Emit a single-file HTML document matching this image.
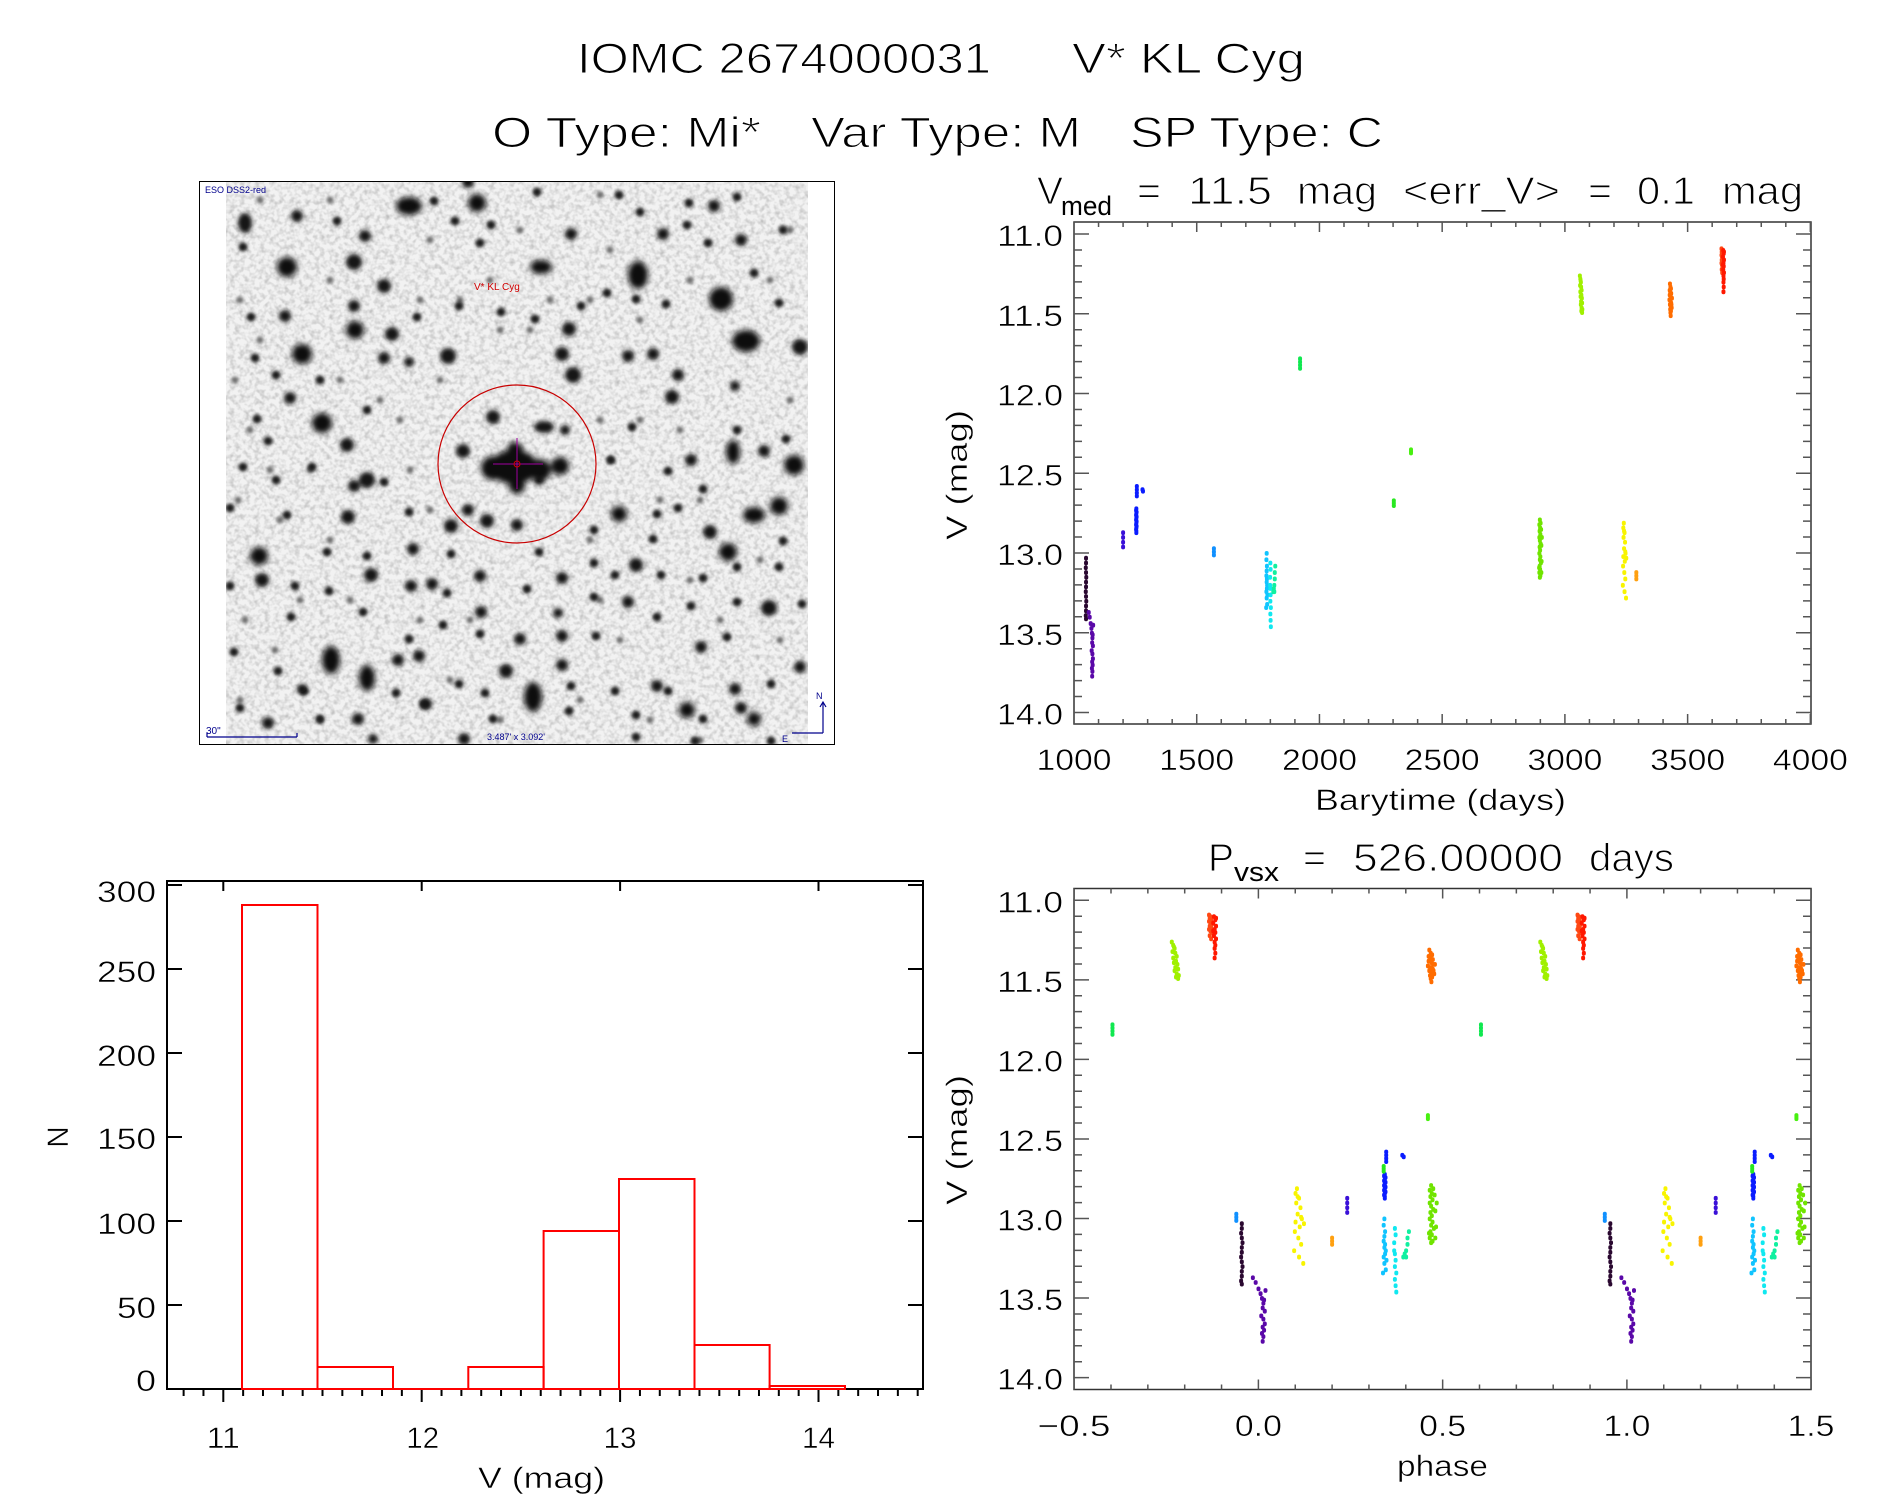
<!DOCTYPE html>
<html><head><meta charset="utf-8"><style>
html,body{margin:0;padding:0;background:#fff;overflow:hidden}
svg{display:block}
text{font-family:"Liberation Sans",sans-serif;fill:#000}
.big text,text.big{stroke:#fff;stroke-width:1.1px}
.big text.sub{stroke:none}
.mid text{stroke:#fff;stroke-width:0.5px}
.d{fill:none;stroke-width:4;stroke-linecap:round;vector-effect:non-scaling-stroke}
.tk{fill:none;stroke:#555;stroke-width:1.5;vector-effect:non-scaling-stroke}
.hk{fill:none;stroke:#000;stroke-width:2;vector-effect:non-scaling-stroke}
</style></head><body>
<svg width="1889" height="1494" viewBox="0 0 1889 1494" xmlns="http://www.w3.org/2000/svg">
<defs>
<clipPath id="imgclip"><rect x="226" y="182" width="582" height="562"/></clipPath>
<clipPath id="phclip"><rect x="1074" y="888" width="737" height="502"/></clipPath>
<filter id="b3" x="-50%" y="-50%" width="200%" height="200%"><feGaussianBlur stdDeviation="3"/></filter>
<filter id="b2" x="-50%" y="-50%" width="200%" height="200%"><feGaussianBlur stdDeviation="2"/></filter>
<filter id="b1" x="-50%" y="-50%" width="200%" height="200%"><feGaussianBlur stdDeviation="1.5"/></filter>
<filter id="noise" x="0" y="0" width="100%" height="100%"><feTurbulence type="fractalNoise" baseFrequency="0.2" numOctaves="2" seed="7"/><feColorMatrix type="matrix" values="0 0 0 0 0  0 0 0 0 0  0 0 0 0 0  0.42 0 0 0 -0.17"/></filter>

<path id="yt" class="tk" d="M1074 11h15M1074 11.5h15M1074 12h15M1074 12.5h15M1074 13h15M1074 13.5h15M1074 14h15M1074 11.1h8M1074 11.2h8M1074 11.3h8M1074 11.4h8M1074 11.6h8M1074 11.7h8M1074 11.8h8M1074 11.9h8M1074 12.1h8M1074 12.2h8M1074 12.3h8M1074 12.4h8M1074 12.6h8M1074 12.7h8M1074 12.8h8M1074 12.9h8M1074 13.1h8M1074 13.2h8M1074 13.3h8M1074 13.4h8M1074 13.6h8M1074 13.7h8M1074 13.8h8M1074 13.9h8M1811 11h-15M1811 11.5h-15M1811 12h-15M1811 12.5h-15M1811 13h-15M1811 13.5h-15M1811 14h-15M1811 11.1h-8M1811 11.2h-8M1811 11.3h-8M1811 11.4h-8M1811 11.6h-8M1811 11.7h-8M1811 11.8h-8M1811 11.9h-8M1811 12.1h-8M1811 12.2h-8M1811 12.3h-8M1811 12.4h-8M1811 12.6h-8M1811 12.7h-8M1811 12.8h-8M1811 12.9h-8M1811 13.1h-8M1811 13.2h-8M1811 13.3h-8M1811 13.4h-8M1811 13.6h-8M1811 13.7h-8M1811 13.8h-8M1811 13.9h-8"/>

<path id="c1" class="d" stroke="#2a0830" d="M1049 13.03v.005M1049 13.06v.005M1048 13.09v.005M1049 13.12v.005M1050 13.15v.005M1049 13.18v.005M1049 13.21v.005M1048 13.24v.005M1049 13.27v.005M1050 13.30v.005M1049 13.33v.005M1049 13.36v.005M1048 13.39v.005M1049 13.41v.005"/>
<path id="c2" class="d" stroke="#5a08a8" d="M1060 13.37v.005M1064 13.40v.005M1068 13.44v.005M1071 13.47v.005M1073 13.50v.005M1075 13.53v.005M1074 13.56v.005M1077 13.58v.005M1072 13.61v.005M1075 13.63v.005M1077 13.66v.005M1074 13.68v.005M1076 13.70v.005M1073 13.72v.005M1075 13.74v.005M1074 13.77v.005M1078 13.45v.005M1076 13.51v.005"/>
<path id="c3" class="d" stroke="#3a10d8" d="M1200 12.87v.005M1200 12.90v.005M1200 12.93v.005M1200 12.96v.005"/>
<path id="c4" class="d" stroke="#0a1cff" d="M1254 12.72v.005M1253 12.73v.005M1255 12.74v.005M1254 12.75v.005M1253 12.76v.005M1255 12.77v.005M1254 12.78v.005M1253 12.79v.005M1255 12.80v.005M1254 12.81v.005M1253 12.82v.005M1255 12.83v.005M1254 12.84v.005M1253 12.85v.005M1254 12.86v.005M1254 12.87v.005M1256 12.58v.005M1256 12.60v.005M1256 12.62v.005M1256 12.64v.005M1279 12.60v.005M1281 12.61v.005"/>
<path id="c5" class="d" stroke="#1090ff" d="M1570 12.97v.005M1570 12.99v.005M1570 13.01v.005"/>
<path id="c6a" class="d" stroke="#10c4ff" d="M1785 13.00v.005M1784 13.04v.005M1786 13.08v.005M1785 13.11v.005M1784 13.14v.005M1786 13.16v.005M1785 13.18v.005M1787 13.20v.005M1786 13.22v.005M1784 13.24v.005M1788 13.26v.005M1785 13.28v.005M1787 13.32v.005M1783 13.34v.005"/>
<path id="c6b" class="d" stroke="#10e8f0" d="M1800 13.06v.005M1801 13.10v.005M1799 13.15v.005M1799 13.20v.005M1800 13.22v.005M1801 13.26v.005M1800 13.30v.005M1802 13.34v.005M1800 13.38v.005M1801 13.42v.005M1802 13.46v.005"/>
<path id="c6c" class="d" stroke="#10f0a0" d="M1812 13.24v.005M1814 13.22v.005M1816 13.20v.005M1818 13.12v.005M1820 13.08v.005M1816 13.24v.005M1818 13.16v.005"/>
<path id="c7" class="d" stroke="#10e850" d="M1921 11.78v.005M1921 11.80v.005M1921 11.82v.005M1921 11.84v.005"/>
<path id="c8" class="d" stroke="#28e820" d="M2303 12.67v.005M2303 12.685v.005M2303 12.70v.005"/>
<path id="c9" class="d" stroke="#48f010" d="M2373 12.35v.005M2373 12.36v.005M2373 12.37v.005"/>
<path id="c10" class="d" stroke="#70e400" d="M2898 12.79v.005M2896 12.82v.005M2899 12.84v.005M2897 12.86v.005M2900 12.88v.005M2896 12.90v.005M2898 12.92v.005M2901 12.94v.005M2897 12.96v.005M2899 12.98v.005M2896 13.00v.005M2900 13.02v.005M2898 13.04v.005M2902 13.06v.005M2897 13.08v.005M2899 13.10v.005M2896 13.12v.005M2900 13.14v.005M2898 13.15v.005M2903 12.85v.005M2904 12.95v.005M2905 13.05v.005M2895 13.09v.005M2901 12.81v.005M2906 12.90v.005M2904 13.12v.005"/>
<path id="c11" class="d" stroke="#a0f000" d="M3061 11.26v.005M3063 11.28v.005M3065 11.30v.005M3062 11.32v.005M3066 11.33v.005M3068 11.35v.005M3063 11.36v.005M3067 11.38v.005M3064 11.39v.005M3069 11.40v.005M3066 11.42v.005M3070 11.43v.005M3065 11.44v.005M3068 11.46v.005M3071 11.47v.005M3067 11.48v.005M3070 11.49v.005M3064 11.29v.005"/>
<path id="c12" class="d" stroke="#f8f400" d="M3240 12.81v.005M3238 12.84v.005M3243 12.87v.005M3239 12.90v.005M3245 12.93v.005M3241 12.97v.005M3247 13.00v.005M3238 13.02v.005M3244 13.05v.005M3250 13.03v.005M3237 13.08v.005M3242 13.12v.005M3246 13.16v.005M3236 13.20v.005M3243 13.24v.005M3249 13.28v.005M3241 12.86v.005M3246 12.99v.005"/>
<path id="c13" class="d" stroke="#ffa010" d="M3291 13.12v.005M3291 13.14v.005M3291 13.16v.005"/>
<path id="c14" class="d" stroke="#ff6c00" d="M3428 11.31v.005M3430 11.33v.005M3432 11.34v.005M3427 11.35v.005M3429 11.36v.005M3433 11.37v.005M3428 11.38v.005M3431 11.39v.005M3434 11.40v.005M3426 11.41v.005M3430 11.42v.005M3433 11.43v.005M3428 11.44v.005M3431 11.45v.005M3435 11.46v.005M3429 11.47v.005M3432 11.48v.005M3430 11.49v.005M3431 11.51v.005M3436 11.40v.005M3427 11.38v.005M3434 11.44v.005"/>
<path id="c15a" class="d" stroke="#ff4814" d="M3638 11.09v.005M3640 11.10v.005M3639 11.11v.005M3641 11.12v.005M3638 11.13v.005M3640 11.14v.005M3642 11.15v.005M3639 11.16v.005M3641 11.17v.005M3638 11.18v.005M3640 11.19v.005M3642 11.20v.005M3639 11.22v.005M3641 11.24v.005"/>
<path id="c15b" class="d" stroke="#ff1800" d="M3645 11.10v.005M3647 11.12v.005M3644 11.14v.005M3648 11.16v.005M3646 11.18v.005M3647 11.20v.005M3645 11.22v.005M3648 11.24v.005M3646 11.26v.005M3647 11.28v.005M3646 11.30v.005M3647 11.33v.005M3646 11.36v.005M3648 11.11v.005M3644 11.19v.005"/>
</defs>

<rect width="1889" height="1494" fill="#fff"/>

<!-- Main titles -->
<g class="big">
<text x="577" y="73" font-size="43" textLength="414" lengthAdjust="spacingAndGlyphs">IOMC 2674000031</text>
<text x="1072" y="73" font-size="43" textLength="233" lengthAdjust="spacingAndGlyphs">V* KL Cyg</text>
<text x="492" y="147" font-size="43" textLength="269" lengthAdjust="spacingAndGlyphs">O Type: Mi*</text>
<text x="811" y="147" font-size="43" textLength="270" lengthAdjust="spacingAndGlyphs">Var Type: M</text>
<text x="1130" y="147" font-size="43" textLength="253" lengthAdjust="spacingAndGlyphs">SP Type: C</text>
</g>

<!-- Sky image panel -->
<rect x="199.5" y="181.5" width="635" height="563" fill="#fff" stroke="#000" stroke-width="1"/>
<g clip-path="url(#imgclip)">
<rect x="226" y="182" width="582" height="562" fill="#f2f2f2"/>
<rect x="226" y="182" width="582" height="562" filter="url(#noise)"/>
<g fill="#6a6a6a" filter="url(#b1)">
<circle cx="240" cy="300" r="3.5"/><circle cx="260" cy="340" r="3.5"/><circle cx="235" cy="380" r="3.5"/><circle cx="250" cy="430" r="3.5"/><circle cx="270" cy="470" r="3.5"/><circle cx="238" cy="500" r="3.5"/><circle cx="280" cy="520" r="3.5"/><circle cx="300" cy="600" r="3.5"/><circle cx="245" cy="620" r="3.5"/><circle cx="275" cy="650" r="3.5"/><circle cx="240" cy="700" r="3.5"/><circle cx="320" cy="720" r="3.5"/><circle cx="330" cy="280" r="3.5"/><circle cx="340" cy="380" r="3.5"/><circle cx="310" cy="470" r="3.5"/><circle cx="330" cy="540" r="3.5"/><circle cx="350" cy="600" r="3.5"/><circle cx="380" cy="400" r="3.5"/><circle cx="400" cy="420" r="3.5"/><circle cx="420" cy="300" r="3.5"/><circle cx="430" cy="240" r="3.5"/><circle cx="440" cy="380" r="3.5"/><circle cx="410" cy="470" r="3.5"/><circle cx="430" cy="510" r="3.5"/><circle cx="460" cy="300" r="3.5"/><circle cx="490" cy="280" r="3.5"/><circle cx="500" cy="330" r="3.5"/><circle cx="470" cy="620" r="3.5"/><circle cx="450" cy="680" r="3.5"/><circle cx="500" cy="720" r="3.5"/><circle cx="530" cy="330" r="3.5"/><circle cx="550" cy="300" r="3.5"/><circle cx="590" cy="300" r="3.5"/><circle cx="600" cy="420" r="3.5"/><circle cx="610" cy="460" r="3.5"/><circle cx="590" cy="540" r="3.5"/><circle cx="600" cy="600" r="3.5"/><circle cx="620" cy="640" r="3.5"/><circle cx="580" cy="700" r="3.5"/><circle cx="640" cy="420" r="3.5"/><circle cx="660" cy="500" r="3.5"/><circle cx="650" cy="720" r="3.5"/><circle cx="680" cy="430" r="3.5"/><circle cx="700" cy="500" r="3.5"/><circle cx="690" cy="580" r="3.5"/><circle cx="720" cy="620" r="3.5"/><circle cx="760" cy="560" r="3.5"/><circle cx="780" cy="640" r="3.5"/><circle cx="790" cy="400" r="3.5"/><circle cx="770" cy="280" r="3.5"/><circle cx="790" cy="230" r="3.5"/><circle cx="690" cy="280" r="3.5"/><circle cx="640" cy="320" r="3.5"/><circle cx="610" cy="250" r="3.5"/><circle cx="520" cy="230" r="3.5"/><circle cx="330" cy="200" r="3.5"/><circle cx="260" cy="200" r="3.5"/><circle cx="600" cy="195" r="3.5"/><circle cx="700" cy="740" r="3.5"/><circle cx="420" cy="620" r="3.5"/>
</g>
<g fill="#1e1e1e" filter="url(#b1)">
<circle cx="537" cy="192" r="4.5"/><circle cx="619" cy="195" r="4.5"/><circle cx="689" cy="203" r="4.5"/><circle cx="737" cy="197" r="4.5"/><circle cx="640" cy="212" r="4.5"/><circle cx="687" cy="225" r="4.5"/><circle cx="783" cy="230" r="4.5"/><circle cx="455" cy="221" r="4.5"/><circle cx="491" cy="225" r="4.5"/><circle cx="337" cy="221" r="4.5"/><circle cx="243" cy="247" r="4.5"/><circle cx="434" cy="201" r="4.5"/><circle cx="480" cy="243" r="4.5"/><circle cx="708" cy="243" r="4.5"/><circle cx="754" cy="273" r="4.5"/><circle cx="779" cy="303" r="4.5"/><circle cx="666" cy="304" r="4.5"/><circle cx="636" cy="299" r="4.5"/><circle cx="607" cy="293" r="4.5"/><circle cx="581" cy="306" r="4.5"/><circle cx="535" cy="319" r="4.5"/><circle cx="501" cy="312" r="4.5"/><circle cx="459" cy="306" r="4.5"/><circle cx="417" cy="317" r="4.5"/><circle cx="251" cy="317" r="4.5"/><circle cx="255" cy="358" r="4.5"/><circle cx="276" cy="375" r="4.5"/><circle cx="320" cy="380" r="4.5"/><circle cx="367" cy="410" r="4.5"/><circle cx="257" cy="419" r="4.5"/><circle cx="268" cy="441" r="4.5"/><circle cx="243" cy="467" r="4.5"/><circle cx="312" cy="467" r="4.5"/><circle cx="276" cy="480" r="4.5"/><circle cx="384" cy="482" r="4.5"/><circle cx="409" cy="512" r="4.5"/><circle cx="287" cy="515" r="4.5"/><circle cx="230" cy="508" r="4.5"/><circle cx="611" cy="460" r="4.5"/><circle cx="632" cy="427" r="4.5"/><circle cx="668" cy="471" r="4.5"/><circle cx="703" cy="489" r="4.5"/><circle cx="737" cy="430" r="4.5"/><circle cx="786" cy="439" r="4.5"/><circle cx="657" cy="514" r="4.5"/><circle cx="678" cy="508" r="4.5"/><circle cx="594" cy="530" r="4.5"/><circle cx="653" cy="539" r="4.5"/><circle cx="783" cy="541" r="4.5"/><circle cx="327" cy="552" r="4.5"/><circle cx="367" cy="556" r="4.5"/><circle cx="451" cy="554" r="4.5"/><circle cx="539" cy="552" r="4.5"/><circle cx="594" cy="563" r="4.5"/><circle cx="615" cy="575" r="4.5"/><circle cx="661" cy="575" r="4.5"/><circle cx="703" cy="578" r="4.5"/><circle cx="737" cy="567" r="4.5"/><circle cx="779" cy="567" r="4.5"/><circle cx="230" cy="586" r="4.5"/><circle cx="295" cy="586" r="4.5"/><circle cx="329" cy="591" r="4.5"/><circle cx="447" cy="593" r="4.5"/><circle cx="527" cy="589" r="4.5"/><circle cx="594" cy="597" r="4.5"/><circle cx="657" cy="617" r="4.5"/><circle cx="691" cy="606" r="4.5"/><circle cx="737" cy="602" r="4.5"/><circle cx="802" cy="604" r="4.5"/><circle cx="291" cy="617" r="4.5"/><circle cx="363" cy="612" r="4.5"/><circle cx="409" cy="639" r="4.5"/><circle cx="443" cy="625" r="4.5"/><circle cx="480" cy="634" r="4.5"/><circle cx="596" cy="636" r="4.5"/><circle cx="727" cy="637" r="4.5"/><circle cx="234" cy="652" r="4.5"/><circle cx="278" cy="671" r="4.5"/><circle cx="304" cy="691" r="4.5"/><circle cx="396" cy="693" r="4.5"/><circle cx="459" cy="684" r="4.5"/><circle cx="485" cy="693" r="4.5"/><circle cx="571" cy="686" r="4.5"/><circle cx="615" cy="691" r="4.5"/><circle cx="668" cy="691" r="4.5"/><circle cx="771" cy="684" r="4.5"/><circle cx="240" cy="708" r="4.5"/><circle cx="320" cy="719" r="4.5"/><circle cx="424" cy="704" r="4.5"/><circle cx="493" cy="719" r="4.5"/><circle cx="569" cy="711" r="4.5"/><circle cx="636" cy="715" r="4.5"/><circle cx="703" cy="719" r="4.5"/><circle cx="636" cy="737" r="4.5"/><circle cx="695" cy="741" r="4.5"/><circle cx="771" cy="741" r="4.5"/>
</g>
<g fill="#141414" filter="url(#b2)">
<ellipse cx="245" cy="223" rx="7" ry="10"/><circle cx="468" cy="182" r="6"/><circle cx="297" cy="216" r="6"/><circle cx="365" cy="236" r="6"/><circle cx="571" cy="234" r="6"/><circle cx="714" cy="206" r="6"/><circle cx="741" cy="240" r="6"/><circle cx="663" cy="234" r="6"/><circle cx="354" cy="262" r="8"/><circle cx="384" cy="286" r="7"/><circle cx="354" cy="306" r="6"/><circle cx="285" cy="316" r="6"/><circle cx="392" cy="334" r="7"/><circle cx="448" cy="356" r="8"/><circle cx="569" cy="329" r="7"/><circle cx="562" cy="354" r="7"/><circle cx="573" cy="375" r="8"/><circle cx="800" cy="347" r="8"/><circle cx="628" cy="356" r="6"/><circle cx="653" cy="354" r="6"/><circle cx="384" cy="358" r="6"/><circle cx="409" cy="362" r="5"/><circle cx="678" cy="375" r="6"/><circle cx="672" cy="397" r="7"/><circle cx="735" cy="386" r="5"/><circle cx="290" cy="398" r="6"/><circle cx="493" cy="417" r="7"/><ellipse cx="544" cy="427" rx="10" ry="6"/><circle cx="565" cy="430" r="5"/><circle cx="463" cy="451" r="7"/><circle cx="539" cy="480" r="5"/><circle cx="347" cy="445" r="7"/><circle cx="367" cy="480" r="8"/><circle cx="354" cy="486" r="6"/><circle cx="348" cy="517" r="7"/><circle cx="764" cy="451" r="6"/><circle cx="691" cy="460" r="6"/><circle cx="487" cy="521" r="7"/><circle cx="517" cy="525" r="6"/><circle cx="451" cy="526" r="7"/><circle cx="468" cy="510" r="6"/><circle cx="710" cy="532" r="7"/><circle cx="262" cy="580" r="7"/><circle cx="413" cy="549" r="6"/><circle cx="371" cy="575" r="7"/><circle cx="411" cy="586" r="6"/><circle cx="432" cy="584" r="6"/><circle cx="480" cy="576" r="6"/><circle cx="562" cy="578" r="6"/><circle cx="636" cy="565" r="7"/><circle cx="769" cy="608" r="8"/><circle cx="628" cy="602" r="6"/><circle cx="481" cy="612" r="6"/><circle cx="558" cy="613" r="5"/><circle cx="419" cy="656" r="6"/><circle cx="398" cy="660" r="6"/><circle cx="506" cy="671" r="7"/><circle cx="520" cy="639" r="6"/><circle cx="562" cy="636" r="6"/><circle cx="562" cy="665" r="6"/><circle cx="701" cy="647" r="6"/><circle cx="735" cy="689" r="6"/><circle cx="741" cy="708" r="6"/><circle cx="657" cy="686" r="6"/><circle cx="800" cy="667" r="6"/><circle cx="268" cy="723" r="6"/><circle cx="302" cy="689" r="5"/><circle cx="358" cy="719" r="6"/><circle cx="426" cy="704" r="6"/><circle cx="464" cy="739" r="6"/><circle cx="373" cy="739" r="5"/>
</g>
<g fill="#0c0c0c" filter="url(#b3)">
<ellipse cx="409" cy="206" rx="13" ry="9"/><circle cx="477" cy="203" r="9"/><circle cx="287" cy="267" r="10"/><ellipse cx="541" cy="267" rx="11" ry="7"/><ellipse cx="638" cy="275" rx="10" ry="14"/><circle cx="721" cy="299" r="12"/><circle cx="355" cy="330" r="9"/><circle cx="302" cy="354" r="10"/><ellipse cx="746" cy="341" rx="14" ry="11"/><circle cx="322" cy="423" r="10"/>
<ellipse cx="514" cy="467" rx="24" ry="17"/><circle cx="493" cy="468" r="12"/><circle cx="540" cy="470" r="11"/><circle cx="560" cy="466" r="9"/><circle cx="515" cy="450" r="8"/><circle cx="517" cy="486" r="8"/>
<ellipse cx="733" cy="452" rx="7" ry="12"/><circle cx="794" cy="465" r="10"/><circle cx="779" cy="506" r="9"/><ellipse cx="754" cy="515" rx="11" ry="8"/><circle cx="619" cy="514" r="8"/><circle cx="728" cy="552" r="9"/><circle cx="259" cy="556" r="9"/><ellipse cx="331" cy="660" rx="9" ry="14"/><ellipse cx="367" cy="678" rx="8" ry="13"/><ellipse cx="533" cy="697" rx="9" ry="15"/><circle cx="687" cy="710" r="8"/><circle cx="754" cy="719" r="7"/>
</g>
</g>
<circle cx="517" cy="464" r="79" fill="none" stroke="#c80000" stroke-width="1.2"/>
<path d="M493 464H543M517 438V489" stroke="#a000a0" stroke-width="1" fill="none"/>
<circle cx="517" cy="464" r="3" fill="none" stroke="#d00000" stroke-width="1"/>
<text x="474" y="290" font-size="10" style="fill:#d00000">V* KL Cyg</text>
<text x="205" y="193" font-size="9" style="fill:#00008c">ESO DSS2-red</text>
<text x="206" y="734" font-size="10" style="fill:#00008c">30"</text>
<path d="M207 737H297M207 737V733M297 737V733" stroke="#00008c" stroke-width="1.2" fill="none"/>
<text x="487" y="740" font-size="9" style="fill:#00008c">3.487' x 3.092'</text>
<path d="M823 733V702M820 707L823 702L826 707M823 733H792" stroke="#00008c" stroke-width="1.2" fill="none"/>
<text x="816" y="699" font-size="9" style="fill:#00008c">N</text>
<text x="782" y="742" font-size="9" style="fill:#00008c">E</text>

<!-- Top-right light curve -->
<g class="big">
<text x="1037" y="204" font-size="39">V</text>
<text class="sub" x="1061" y="215" font-size="27" textLength="51" lengthAdjust="spacingAndGlyphs">med</text>
<text x="1137" y="204" font-size="39" textLength="24" lengthAdjust="spacingAndGlyphs">=</text>
<text x="1188" y="204" font-size="39" textLength="84" lengthAdjust="spacingAndGlyphs">11.5</text>
<text x="1297" y="204" font-size="39" textLength="80" lengthAdjust="spacingAndGlyphs">mag</text>
<text x="1403" y="204" font-size="39" textLength="157" lengthAdjust="spacingAndGlyphs">&lt;err_V&gt;</text>
<text x="1588" y="204" font-size="39" textLength="24" lengthAdjust="spacingAndGlyphs">=</text>
<text x="1637" y="204" font-size="39" textLength="58" lengthAdjust="spacingAndGlyphs">0.1</text>
<text x="1722" y="204" font-size="39" textLength="81" lengthAdjust="spacingAndGlyphs">mag</text>
</g>

<rect x="1074" y="222" width="737" height="502" fill="none" stroke="#333" stroke-width="1.5"/>
<use href="#yt" transform="matrix(1 0 0 159.5 0 -1520.5)"/>
<path class="tk" transform="matrix(0.24545 0 0 1 828.55 0)" d="M1000 724v-10M1500 724v-10M2000 724v-10M2500 724v-10M3000 724v-10M3500 724v-10M4000 724v-10M1000 222v10M1500 222v10M2000 222v10M2500 222v10M3000 222v10M3500 222v10M4000 222v10M1100 724v-5M1200 724v-5M1300 724v-5M1400 724v-5M1600 724v-5M1700 724v-5M1800 724v-5M1900 724v-5M2100 724v-5M2200 724v-5M2300 724v-5M2400 724v-5M2600 724v-5M2700 724v-5M2800 724v-5M2900 724v-5M3100 724v-5M3200 724v-5M3300 724v-5M3400 724v-5M3600 724v-5M3700 724v-5M3800 724v-5M3900 724v-5M1100 222v5M1200 222v5M1300 222v5M1400 222v5M1600 222v5M1700 222v5M1800 222v5M1900 222v5M2100 222v5M2200 222v5M2300 222v5M2400 222v5M2600 222v5M2700 222v5M2800 222v5M2900 222v5M3100 222v5M3200 222v5M3300 222v5M3400 222v5M3600 222v5M3700 222v5M3800 222v5M3900 222v5"/>
<g transform="matrix(0.24545 0 0 159.5 828.55 -1520.5)">
<use href="#c1"/><use href="#c2"/><use href="#c3"/><use href="#c4"/><use href="#c5"/><use href="#c6a"/><use href="#c6b"/><use href="#c6c"/><use href="#c7"/><use href="#c8"/><use href="#c9"/><use href="#c10"/><use href="#c11"/><use href="#c12"/><use href="#c13"/><use href="#c14"/><use href="#c15a"/><use href="#c15b"/>
</g>
<g font-size="30" class="mid">
<text x="997" y="246" textLength="66" lengthAdjust="spacingAndGlyphs">11.0</text>
<text x="997" y="325.75" textLength="66" lengthAdjust="spacingAndGlyphs">11.5</text>
<text x="997" y="405.5" textLength="66" lengthAdjust="spacingAndGlyphs">12.0</text>
<text x="997" y="485.25" textLength="66" lengthAdjust="spacingAndGlyphs">12.5</text>
<text x="997" y="565" textLength="66" lengthAdjust="spacingAndGlyphs">13.0</text>
<text x="997" y="644.75" textLength="66" lengthAdjust="spacingAndGlyphs">13.5</text>
<text x="997" y="724.5" textLength="66" lengthAdjust="spacingAndGlyphs">14.0</text>
<text x="1036.5" y="770" textLength="75" lengthAdjust="spacingAndGlyphs">1000</text>
<text x="1159.2" y="770" textLength="75" lengthAdjust="spacingAndGlyphs">1500</text>
<text x="1282" y="770" textLength="75" lengthAdjust="spacingAndGlyphs">2000</text>
<text x="1404.7" y="770" textLength="75" lengthAdjust="spacingAndGlyphs">2500</text>
<text x="1527.4" y="770" textLength="75" lengthAdjust="spacingAndGlyphs">3000</text>
<text x="1650.2" y="770" textLength="75" lengthAdjust="spacingAndGlyphs">3500</text>
<text x="1772.9" y="770" textLength="75" lengthAdjust="spacingAndGlyphs">4000</text>
<text x="1315" y="810" textLength="251" lengthAdjust="spacingAndGlyphs">Barytime (days)</text>
<text transform="translate(967 475) rotate(-90)" x="-65" y="0" textLength="130" lengthAdjust="spacingAndGlyphs">V (mag)</text>
</g>

<!-- Bottom-right phase plot -->
<g class="big">
<text x="1208" y="871" font-size="39">P</text>
<text class="sub" x="1234" y="881" font-size="27" textLength="45" lengthAdjust="spacingAndGlyphs">vsx</text>
<text x="1303" y="871" font-size="39" textLength="23" lengthAdjust="spacingAndGlyphs">=</text>
<text x="1353" y="871" font-size="39" textLength="210" lengthAdjust="spacingAndGlyphs">526.00000</text>
<text x="1589" y="871" font-size="39" textLength="85" lengthAdjust="spacingAndGlyphs">days</text>
</g>

<rect x="1074" y="888.5" width="737" height="501" fill="none" stroke="#333" stroke-width="1.5"/>
<use href="#yt" transform="matrix(1 0 0 159.1 0 -849.8)"/>
<path class="tk" transform="matrix(368.5 0 0 1 1258.4 0)" d="M-0.5 1389.5v-10M0 1389.5v-10M0.5 1389.5v-10M1 1389.5v-10M1.5 1389.5v-10M-0.5 888.5v10M0 888.5v10M0.5 888.5v10M1 888.5v10M1.5 888.5v10M-0.4 1389.5v-5M-0.3 1389.5v-5M-0.2 1389.5v-5M-0.1 1389.5v-5M0.1 1389.5v-5M0.2 1389.5v-5M0.3 1389.5v-5M0.4 1389.5v-5M0.6 1389.5v-5M0.7 1389.5v-5M0.8 1389.5v-5M0.9 1389.5v-5M1.1 1389.5v-5M1.2 1389.5v-5M1.3 1389.5v-5M1.4 1389.5v-5M-0.4 888.5v5M-0.3 888.5v5M-0.2 888.5v5M-0.1 888.5v5M0.1 888.5v5M0.2 888.5v5M0.3 888.5v5M0.4 888.5v5M0.6 888.5v5M0.7 888.5v5M0.8 888.5v5M0.9 888.5v5M1.1 888.5v5M1.2 888.5v5M1.3 888.5v5M1.4 888.5v5"/>
<g clip-path="url(#phclip)">
<use href="#c1" transform="matrix(0.70057 0 0 159.1 506.92 -849.8)"/><use href="#c1" transform="matrix(0.70057 0 0 159.1 875.42 -849.8)"/>
<use href="#c2" transform="matrix(0.70057 0 0 159.1 510.27 -849.8)"/><use href="#c2" transform="matrix(0.70057 0 0 159.1 878.77 -849.8)"/>
<use href="#c3" transform="matrix(0.70057 0 0 159.1 506.53 -849.8)"/><use href="#c3" transform="matrix(0.70057 0 0 159.1 875.03 -849.8)"/>
<use href="#c4" transform="matrix(0.70057 0 0 159.1 506.29 -849.8)"/><use href="#c4" transform="matrix(0.70057 0 0 159.1 874.79 -849.8)"/>
<use href="#c5" transform="matrix(0.70057 0 0 159.1 136.40 -849.8)"/><use href="#c5" transform="matrix(0.70057 0 0 159.1 504.90 -849.8)"/>
<use href="#c6a" transform="matrix(0.70057 0 0 159.1 133.87 -849.8)"/><use href="#c6a" transform="matrix(0.70057 0 0 159.1 502.37 -849.8)"/>
<use href="#c6b" transform="matrix(0.70057 0 0 159.1 133.87 -849.8)"/><use href="#c6b" transform="matrix(0.70057 0 0 159.1 502.37 -849.8)"/>
<use href="#c6c" transform="matrix(0.70057 0 0 159.1 133.87 -849.8)"/><use href="#c6c" transform="matrix(0.70057 0 0 159.1 502.37 -849.8)"/>
<use href="#c7" transform="matrix(0.70057 0 0 159.1 -233.32 -849.8)"/><use href="#c7" transform="matrix(0.70057 0 0 159.1 135.18 -849.8)"/>
<use href="#c8" transform="matrix(0.70057 0 0 159.1 -229.72 -849.8)"/><use href="#c8" transform="matrix(0.70057 0 0 159.1 138.78 -849.8)"/>
<use href="#c9" transform="matrix(0.70057 0 0 159.1 -234.54 -849.8)"/><use href="#c9" transform="matrix(0.70057 0 0 159.1 133.96 -849.8)"/>
<use href="#c10" transform="matrix(0.70057 0 0 159.1 -599.13 -849.8)"/><use href="#c10" transform="matrix(0.70057 0 0 159.1 -230.63 -849.8)"/>
<use href="#c11" transform="matrix(0.70057 0 0 159.1 -972.64 -849.8)"/><use href="#c11" transform="matrix(0.70057 0 0 159.1 -604.14 -849.8)"/>
<use href="#c12" transform="matrix(0.70057 0 0 159.1 -972.90 -849.8)"/><use href="#c12" transform="matrix(0.70057 0 0 159.1 -604.40 -849.8)"/>
<use href="#c13" transform="matrix(0.70057 0 0 159.1 -973.48 -849.8)"/><use href="#c13" transform="matrix(0.70057 0 0 159.1 -604.98 -849.8)"/>
<use href="#c14" transform="matrix(0.70057 0 0 159.1 -972.24 -849.8)"/><use href="#c14" transform="matrix(0.70057 0 0 159.1 -603.74 -849.8)"/>
<use href="#c15a" transform="matrix(0.70057 0 0 159.1 -1339.65 -849.8)"/><use href="#c15a" transform="matrix(0.70057 0 0 159.1 -971.15 -849.8)"/>
<use href="#c15b" transform="matrix(0.70057 0 0 159.1 -1339.65 -849.8)"/><use href="#c15b" transform="matrix(0.70057 0 0 159.1 -971.15 -849.8)"/>
</g>
<g font-size="30" class="mid">
<text x="997" y="912.3" textLength="66" lengthAdjust="spacingAndGlyphs">11.0</text>
<text x="997" y="991.85" textLength="66" lengthAdjust="spacingAndGlyphs">11.5</text>
<text x="997" y="1071.4" textLength="66" lengthAdjust="spacingAndGlyphs">12.0</text>
<text x="997" y="1151" textLength="66" lengthAdjust="spacingAndGlyphs">12.5</text>
<text x="997" y="1230.5" textLength="66" lengthAdjust="spacingAndGlyphs">13.0</text>
<text x="997" y="1310" textLength="66" lengthAdjust="spacingAndGlyphs">13.5</text>
<text x="997" y="1389.6" textLength="66" lengthAdjust="spacingAndGlyphs">14.0</text>
<text x="1037.5" y="1436" textLength="73" lengthAdjust="spacingAndGlyphs">−0.5</text>
<text x="1234.9" y="1436" textLength="47" lengthAdjust="spacingAndGlyphs">0.0</text>
<text x="1419.1" y="1436" textLength="47" lengthAdjust="spacingAndGlyphs">0.5</text>
<text x="1603.4" y="1436" textLength="47" lengthAdjust="spacingAndGlyphs">1.0</text>
<text x="1787.5" y="1436" textLength="47" lengthAdjust="spacingAndGlyphs">1.5</text>
<text x="1397" y="1476" textLength="91" lengthAdjust="spacingAndGlyphs">phase</text>
<text transform="translate(967 1140) rotate(-90)" x="-65" y="0" textLength="130" lengthAdjust="spacingAndGlyphs">V (mag)</text>
</g>

<!-- Histogram -->
<rect x="167" y="881" width="756" height="508" fill="none" stroke="#000" stroke-width="2"/>
<path class="hk" d="M167 1389h15M167 1305h15M167 1221h15M167 1137h15M167 1053h15M167 969h15M167 885h15M923 1389h-15M923 1305h-15M923 1221h-15M923 1137h-15M923 1053h-15M923 969h-15M923 885h-15"/>
<path class="hk" transform="matrix(198.4 0 0 1 -1959.1 0)" d="M11 1389v13M12 1389v13M13 1389v13M14 1389v13M11 881v10M12 881v10M13 881v10M14 881v10M10.8 1389v7M10.9 1389v7M11.1 1389v7M11.2 1389v7M11.3 1389v7M11.4 1389v7M11.5 1389v7M11.6 1389v7M11.7 1389v7M11.8 1389v7M11.9 1389v7M12.1 1389v7M12.2 1389v7M12.3 1389v7M12.4 1389v7M12.5 1389v7M12.6 1389v7M12.7 1389v7M12.8 1389v7M12.9 1389v7M13.1 1389v7M13.2 1389v7M13.3 1389v7M13.4 1389v7M13.5 1389v7M13.6 1389v7M13.7 1389v7M13.8 1389v7M13.9 1389v7M14.1 1389v7M14.2 1389v7M14.3 1389v7M14.4 1389v7M14.5 1389v7"/>
<g fill="none" stroke="#ff0000" stroke-width="2">
<path d="M242 1389H845"/>
<rect x="242" y="905" width="75.5" height="484"/>
<rect x="317.5" y="1367" width="75.5" height="22"/>
<rect x="468.3" y="1367" width="75.3" height="22"/>
<rect x="543.6" y="1231" width="75.4" height="158"/>
<rect x="619" y="1179" width="75.5" height="210"/>
<rect x="694.5" y="1345" width="75.1" height="44"/>
<rect x="769.6" y="1386" width="75.4" height="3"/>
</g>
<g font-size="30" class="mid">
<text x="97" y="902" textLength="59" lengthAdjust="spacingAndGlyphs">300</text>
<text x="97" y="982" textLength="59" lengthAdjust="spacingAndGlyphs">250</text>
<text x="97" y="1066" textLength="59" lengthAdjust="spacingAndGlyphs">200</text>
<text x="97" y="1149" textLength="59" lengthAdjust="spacingAndGlyphs">150</text>
<text x="97" y="1234" textLength="59" lengthAdjust="spacingAndGlyphs">100</text>
<text x="117" y="1318" textLength="39" lengthAdjust="spacingAndGlyphs">50</text>
<text x="136" y="1391" textLength="20" lengthAdjust="spacingAndGlyphs">0</text>
<text x="206.8" y="1448" textLength="33" lengthAdjust="spacingAndGlyphs">11</text>
<text x="406.2" y="1448" textLength="33" lengthAdjust="spacingAndGlyphs">12</text>
<text x="603.5" y="1448" textLength="33" lengthAdjust="spacingAndGlyphs">13</text>
<text x="802" y="1448" textLength="33" lengthAdjust="spacingAndGlyphs">14</text>
<text x="478" y="1488" textLength="127" lengthAdjust="spacingAndGlyphs">V (mag)</text>
<text transform="translate(68 1137) rotate(-90)" text-anchor="middle">N</text>
</g>
</svg>
</body></html>
